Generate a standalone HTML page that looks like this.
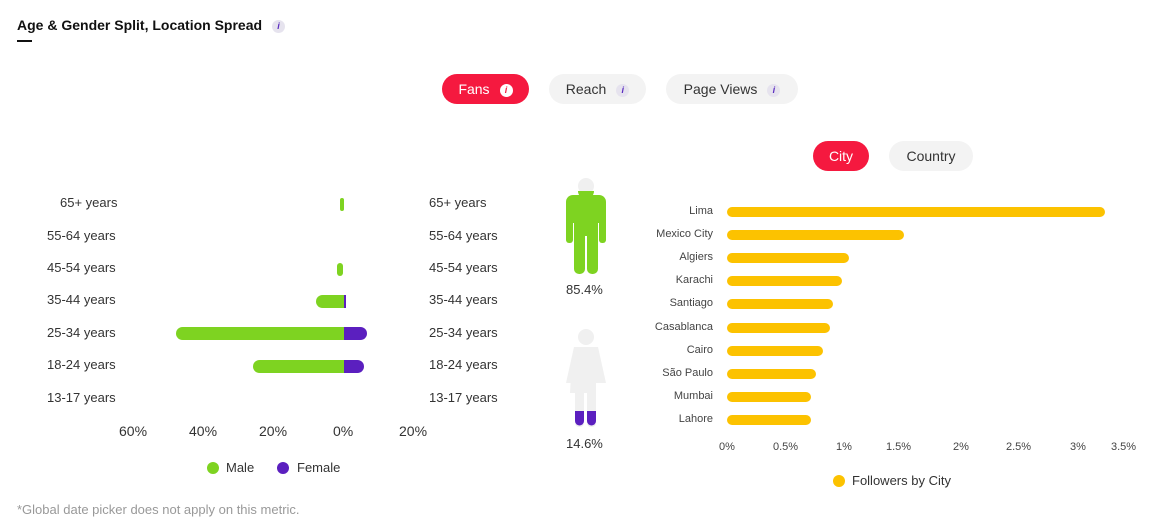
<!DOCTYPE html><html><head><style>
body{margin:0;width:1159px;height:523px;background:#fff;font-family:"Liberation Sans",sans-serif;position:relative;overflow:hidden;color:#333}
.a{position:absolute}
.pill{position:absolute;height:30px;border-radius:15px;font-size:14px;line-height:30px;text-align:center}
.i{display:inline-block;width:13px;height:13px;border-radius:50%;background:#e6e3ee;color:#5b2cc0;font-size:9px;line-height:13px;text-align:center;font-style:italic;font-weight:bold;vertical-align:1px;margin-left:10px}
.lab{position:absolute;font-size:13px;color:#333}
.bar{position:absolute;height:13px}
.cl{position:absolute;font-size:11px;color:#444;text-align:right;width:120px}
.cb{position:absolute;height:10px;background:#fcc200;border-radius:5px;left:727px}
.tk{position:absolute;font-size:11px;color:#444}
</style></head><body>
<div class="a" style="left:17px;top:17px;font-size:14px;font-weight:bold;color:#111">Age &amp; Gender Split, Location Spread<span class="i" style="margin-left:10px">i</span></div>
<div class="a" style="left:17px;top:40px;width:15px;height:2px;background:#111"></div>
<div class="pill" style="left:442px;top:74px;width:87px;background:#f5193f;color:#fff">Fans<span class="i" style="background:#fff;color:#f5193f">i</span></div>
<div class="pill" style="left:549px;top:74px;width:97px;background:#f3f3f3;color:#333">Reach<span class="i">i</span></div>
<div class="pill" style="left:666px;top:74px;width:132px;background:#f3f3f3;color:#333">Page Views<span class="i">i</span></div>
<div class="pill" style="left:813px;top:141px;width:56px;background:#f5193f;color:#fff">City</div>
<div class="pill" style="left:889px;top:141px;width:84px;background:#f3f3f3;color:#333">Country</div>

<div class="lab" style="left:60px;top:195px">65+ years</div>
<div class="lab" style="left:47px;top:228px">55-64 years</div>
<div class="lab" style="left:47px;top:260px">45-54 years</div>
<div class="lab" style="left:47px;top:292px">35-44 years</div>
<div class="lab" style="left:47px;top:325px">25-34 years</div>
<div class="lab" style="left:47px;top:357px">18-24 years</div>
<div class="lab" style="left:47px;top:390px">13-17 years</div>
<div class="lab" style="left:429px;top:195px">65+ years</div>
<div class="lab" style="left:429px;top:228px">55-64 years</div>
<div class="lab" style="left:429px;top:260px">45-54 years</div>
<div class="lab" style="left:429px;top:292px">35-44 years</div>
<div class="lab" style="left:429px;top:325px">25-34 years</div>
<div class="lab" style="left:429px;top:357px">18-24 years</div>
<div class="lab" style="left:429px;top:390px">13-17 years</div>

<div class="bar" style="left:340px;top:198px;width:4px;background:#7ed321;border-radius:2px"></div>
<div class="bar" style="left:337px;top:263px;width:6px;background:#7ed321;border-radius:3px"></div>
<div class="bar" style="left:316px;top:295px;width:28px;background:#7ed321;border-radius:7px 0 0 7px"></div>
<div class="bar" style="left:344px;top:295px;width:2px;background:#5b1fbf"></div>
<div class="bar" style="left:176px;top:327px;width:168px;background:#7ed321;border-radius:7px 0 0 7px"></div>
<div class="bar" style="left:344px;top:327px;width:23px;background:#5b1fbf;border-radius:0 7px 7px 0"></div>
<div class="bar" style="left:253px;top:360px;width:91px;background:#7ed321;border-radius:7px 0 0 7px"></div>
<div class="bar" style="left:344px;top:360px;width:20px;background:#5b1fbf;border-radius:0 7px 7px 0"></div>
<div class="lab" style="left:119px;top:423px;font-size:14px">60%</div>
<div class="lab" style="left:189px;top:423px;font-size:14px">40%</div>
<div class="lab" style="left:259px;top:423px;font-size:14px">20%</div>
<div class="lab" style="left:333px;top:423px;font-size:14px">0%</div>
<div class="lab" style="left:399px;top:423px;font-size:14px">20%</div>
<div class="a" style="left:207px;top:462px;width:12px;height:12px;border-radius:6px;background:#7ed321"></div>
<div class="lab" style="left:226px;top:460px">Male</div>
<div class="a" style="left:277px;top:462px;width:12px;height:12px;border-radius:6px;background:#5b1fbf"></div>
<div class="lab" style="left:297px;top:460px">Female</div>

<svg class="a" style="left:560px;top:176px" width="50" height="100">
<circle cx="26" cy="10" r="8" fill="#f0f0f0"/><path d="M18 15 A8 8 0 0 0 34 15Z" fill="#7ed321"/>
<rect x="6" y="19" width="40" height="28" rx="7" fill="#7ed321"/><rect x="6" y="30" width="7" height="37" rx="3" fill="#7ed321"/><rect x="39" y="30" width="7" height="37" rx="3" fill="#7ed321"/>
<rect x="14" y="40" width="24" height="20" fill="#7ed321"/><rect x="14" y="50" width="11" height="48" rx="5" fill="#7ed321"/><rect x="27" y="50" width="11" height="48" rx="5" fill="#7ed321"/></svg>
<div class="lab" style="left:566px;top:282px">85.4%</div>
<svg class="a" style="left:560px;top:327px" width="50" height="100">
<circle cx="26" cy="10" r="8" fill="#f0f0f0"/><path d="M14 20 H38 L46 56 H6Z" fill="#f0f0f0"/><path d="M12 30 L30 30 L30 66 L10 66Z" fill="#f0f0f0"/>
<rect x="15" y="50" width="9" height="50" rx="4" fill="#f0f0f0"/><rect x="27" y="50" width="9" height="50" rx="4" fill="#f0f0f0"/>
<path d="M15 84 H24 V94 a4.5 4.5 0 0 1 -9 0Z" fill="#5b1fbf"/><path d="M27 84 H36 V94 a4.5 4.5 0 0 1 -9 0Z" fill="#5b1fbf"/></svg>
<div class="lab" style="left:566px;top:436px">14.6%</div>

<div class="cl" style="left:593px;top:205px">Lima</div><div class="cb" style="top:207px;width:378px"></div>
<div class="cl" style="left:593px;top:228px">Mexico City</div><div class="cb" style="top:230px;width:177px"></div>
<div class="cl" style="left:593px;top:251px">Algiers</div><div class="cb" style="top:253px;width:122px"></div>
<div class="cl" style="left:593px;top:274px">Karachi</div><div class="cb" style="top:276px;width:115px"></div>
<div class="cl" style="left:593px;top:297px">Santiago</div><div class="cb" style="top:299px;width:106px"></div>
<div class="cl" style="left:593px;top:321px">Casablanca</div><div class="cb" style="top:323px;width:103px"></div>
<div class="cl" style="left:593px;top:344px">Cairo</div><div class="cb" style="top:346px;width:96px"></div>
<div class="cl" style="left:593px;top:367px">São Paulo</div><div class="cb" style="top:369px;width:89px"></div>
<div class="cl" style="left:593px;top:390px">Mumbai</div><div class="cb" style="top:392px;width:84px"></div>
<div class="cl" style="left:593px;top:413px">Lahore</div><div class="cb" style="top:415px;width:84px"></div>
<div class="tk" style="left:719px;top:441px">0%</div>
<div class="tk" style="left:773px;top:441px">0.5%</div>
<div class="tk" style="left:836px;top:441px">1%</div>
<div class="tk" style="left:886px;top:441px">1.5%</div>
<div class="tk" style="left:953px;top:441px">2%</div>
<div class="tk" style="left:1006px;top:441px">2.5%</div>
<div class="tk" style="left:1070px;top:441px">3%</div>
<div class="tk" style="left:1111px;top:441px">3.5%</div>
<div class="a" style="left:833px;top:475px;width:12px;height:12px;border-radius:6px;background:#fcc200"></div>
<div class="lab" style="left:852px;top:473px">Followers by City</div>
<div class="lab" style="left:17px;top:502px;color:#999">*Global date picker does not apply on this metric.</div>
</body></html>
